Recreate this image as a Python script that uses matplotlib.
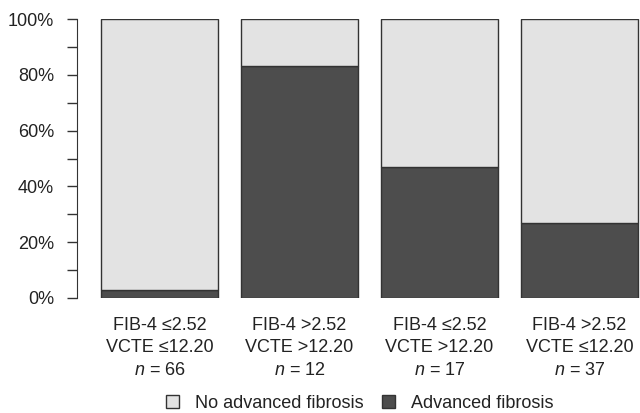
import matplotlib.pyplot as plt
from matplotlib.patches import Patch
from matplotlib.ticker import MultipleLocator

plt.rcParams['font.family'] = ['Liberation Sans', 'DejaVu Sans']
plt.rcParams['mathtext.fontset'] = 'custom'
plt.rcParams['mathtext.it'] = 'Liberation Sans:italic'
plt.rcParams['mathtext.rm'] = 'Liberation Sans'

# data
groups = ['FIB-4 \u22642.52\nVCTE \u226412.20', 'FIB-4 >2.52\nVCTE >12.20',
          'FIB-4 \u22642.52\nVCTE >12.20', 'FIB-4 >2.52\nVCTE \u226412.20']
n_total = [66, 12, 17, 37]
advanced_pct = [3.0, 83.3, 47.1, 27.0]
no_advanced_pct = [100 - v for v in advanced_pct]
yticks = [0, 20, 40, 60, 80, 100]

light = '#e3e3e3'
dark = '#4d4d4d'
edge = '#333333'
txt = '#222222'

fig = plt.figure(figsize=(6.4, 4.13), dpi=100)
ax = fig.add_axes([77 / 640, 115 / 413, 1 - 77 / 640, 279 / 413])

x = list(range(len(groups)))
w = 0.836
ax.bar(x, advanced_pct, width=w, color=dark, edgecolor=edge, linewidth=1)
ax.bar(x, no_advanced_pct, width=w, bottom=advanced_pct, color=light, edgecolor=edge, linewidth=1)

ax.set_xlim(-0.589, 3.432)
ax.set_ylim(0, 100)

labels = [g + '\n$\\it{n}$ = %d' % n for g, n in zip(groups, n_total)]
ax.set_xticks(x)
ax.set_xticklabels(labels, linespacing=1.42)
ax.tick_params(axis='x', length=0, pad=13.5, labelsize=13, labelcolor=txt)

ax.yaxis.set_minor_locator(MultipleLocator(10))
ax.set_yticks(yticks)
ax.set_yticklabels(['%d%%' % v for v in yticks])
ax.tick_params(axis='y', which='both', length=7.5, width=1, color=edge, pad=9,
               labelsize=13, labelcolor=txt)

for s in ['top', 'right', 'bottom']:
    ax.spines[s].set_visible(False)
ax.spines['left'].set_color(edge)
ax.spines['left'].set_bounds(0, 100)

handles = [Patch(facecolor=light, edgecolor=edge, label='No advanced fibrosis'),
           Patch(facecolor=dark, edgecolor=edge, label='Advanced fibrosis')]
fig.legend(handles=handles, loc='center', bbox_to_anchor=(360 / 640, 10 / 413), ncol=2,
           frameon=False, fontsize=13, handlelength=0.72, handleheight=0.72,
           handletextpad=0.9, columnspacing=1.0, labelcolor=txt, borderpad=0)

fig.savefig('out.png', dpi=100)
